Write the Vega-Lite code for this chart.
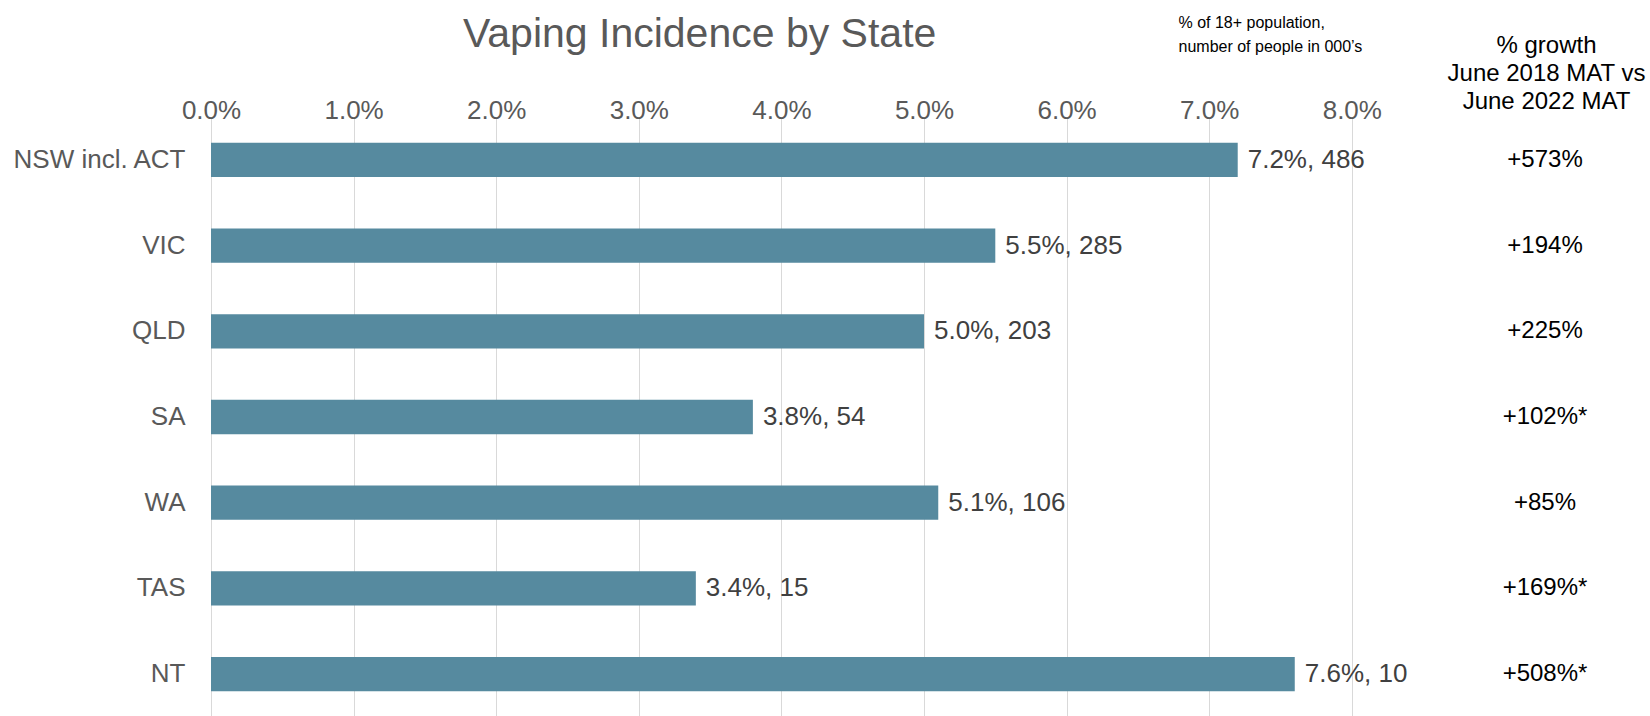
{
  "$schema": "https://vega.github.io/schema/vega-lite/v6.json",
  "width": 1426,
  "height": 600,
  "autosize": {"type": "none"},
  "padding": {"left": 211, "top": 117, "right": 13, "bottom": 0},
  "background": "white",
  "config": {
    "font": "Liberation Sans",
    "view": {"stroke": null}
  },
  "title": {
    "text": "Vaping Incidence by State",
    "anchor": "start",
    "frame": "group",
    "dx": 252,
    "dy": 46,
    "fontSize": 41,
    "fontWeight": "normal",
    "color": "#595959",
    "font": "Liberation Sans"
  },
  "data": {
    "values": [
      {"state": "NSW incl. ACT", "incidence": 0.072, "label": "7.2%, 486", "growth": "+573%"},
      {"state": "VIC", "incidence": 0.055, "label": "5.5%, 285", "growth": "+194%"},
      {"state": "QLD", "incidence": 0.050, "label": "5.0%, 203", "growth": "+225%"},
      {"state": "SA", "incidence": 0.038, "label": "3.8%, 54", "growth": "+102%*"},
      {"state": "WA", "incidence": 0.051, "label": "5.1%, 106", "growth": "+85%"},
      {"state": "TAS", "incidence": 0.034, "label": "3.4%, 15", "growth": "+169%*"},
      {"state": "NT", "incidence": 0.076, "label": "7.6%, 10", "growth": "+508%*"}
    ]
  },
  "encoding": {
    "y": {
      "field": "state",
      "type": "nominal",
      "sort": null,
      "scale": {"paddingInner": 0.6, "paddingOuter": 0.3},
      "axis": {
        "orient": "left",
        "domain": false,
        "ticks": false,
        "labelFontSize": 26,
        "labelColor": "#595959",
        "labelPadding": 26,
        "title": ["% growth", "June 2018 MAT vs", "June 2022 MAT"],
        "titleAngle": 0,
        "titleX": 1335,
        "titleY": -65,
        "titleAlign": "center",
        "titleBaseline": "alphabetic",
        "titleFontSize": 24,
        "titleFontWeight": "normal",
        "titleColor": "#000000",
        "titleLineHeight": 28
      }
    }
  },
  "layer": [
    {
      "mark": {"type": "bar", "color": "#568A9F"},
      "encoding": {
        "x": {
          "field": "incidence",
          "type": "quantitative",
          "scale": {"domain": [0, 0.1], "nice": false, "zero": true},
          "axis": {
            "orient": "top",
            "values": [0, 0.01, 0.02, 0.03, 0.04, 0.05, 0.06, 0.07, 0.08],
            "format": ".1%",
            "domain": false,
            "ticks": false,
            "grid": true,
            "gridColor": "#d9d9d9",
            "gridWidth": 1,
            "labelFlush": false,
            "labelFontSize": 26,
            "labelColor": "#595959",
            "labelPadding": -6,
            "title": ["% of 18+ population,", "number of people in 000’s"],
            "titleX": 967,
            "titleY": -90,
            "titleAlign": "left",
            "titleAnchor": "start",
            "titleBaseline": "alphabetic",
            "titleFontSize": 16,
            "titleFontWeight": "normal",
            "titleColor": "#000000",
            "titleLineHeight": 24
          }
        }
      }
    },
    {
      "mark": {"type": "text", "align": "left", "baseline": "middle", "dx": 10, "fontSize": 26, "color": "#404040"},
      "encoding": {
        "x": {"field": "incidence", "type": "quantitative"},
        "text": {"field": "label"}
      }
    },
    {
      "mark": {"type": "text", "align": "center", "baseline": "middle", "fontSize": 24, "color": "#000000"},
      "encoding": {
        "x": {"datum": 0.09355, "type": "quantitative"},
        "text": {"field": "growth"}
      }
    }
  ]
}
